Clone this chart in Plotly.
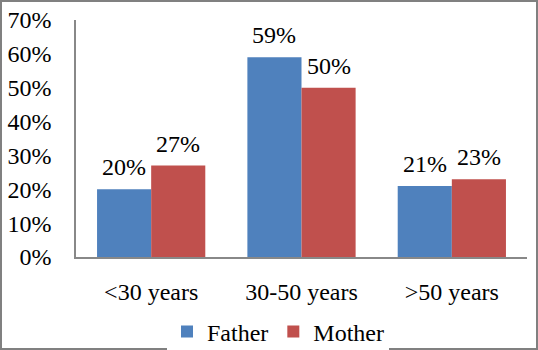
import plotly.graph_objects as go

categories = ["<30 years", "30-50 years", ">50 years"]
father = [0.20, 0.59, 0.21]
mother = [0.27, 0.50, 0.23]
y_ticks = [0, 0.1, 0.2, 0.3, 0.4, 0.5, 0.6, 0.7]

FONT = "Liberation Serif, Times New Roman, serif"
FS = 24
L, R, T, B = 76, 11, 20, 93
W, H = 538, 350
pw, ph = W - L - R, H - T - B
bargap = 0.28
bar_px = pw / len(categories) * (1 - bargap) / 2

fig = go.Figure()
series = [("Father", father, "#4F81BD", -1), ("Mother", mother, "#C0504D", 1)]
for name, vals, col, side in series:
    fig.add_trace(go.Bar(name=name, x=categories, y=vals, marker_color=col,
                         marker_line_width=0))
    for c, v in zip(categories, vals):
        fig.add_annotation(x=c, y=v, text=f"{round(v*100)}%", showarrow=False,
                           xshift=side * bar_px / 2, yshift=7, yanchor="bottom",
                           font=dict(family=FONT, size=FS, color="black"))

fig.update_layout(
    width=W, height=H, margin=dict(l=L, r=R, t=T, b=B, autoexpand=False),
    barmode="group", bargap=bargap, bargroupgap=0,
    plot_bgcolor="white", paper_bgcolor="white",
    font=dict(family=FONT, size=FS, color="black"),
    showlegend=True,
    legend=dict(orientation="h", x=(278 - L) / pw, xanchor="center",
                y=-(332 - (H - B)) / ph, yanchor="middle",
                font=dict(family=FONT, size=FS, color="black"),
                traceorder="normal"),
)
fig.update_xaxes(showline=True, linecolor="#888888", linewidth=1.5,
                 ticks="outside", ticklen=12, tickcolor="rgba(0,0,0,0)",
                 tickfont=dict(family=FONT, size=FS, color="black"),
                 automargin=False)
fig.update_yaxes(range=[0, 0.7], tickvals=y_ticks, tickformat=".0%",
                 showline=True, linecolor="#888888", linewidth=1.5,
                 showgrid=False, zeroline=False,
                 ticks="outside", ticklen=18, tickcolor="rgba(0,0,0,0)",
                 tickfont=dict(family=FONT, size=FS, color="black"),
                 automargin=False)
fig.add_shape(type="rect", xref="paper", yref="paper",
              x0=-(L - 1) / pw, x1=1 + (R - 1) / pw,
              y0=-(B - 1) / ph, y1=1 + (T - 1) / ph,
              line=dict(color="#808080", width=2))
fig.write_html("out.html", config={"displayModeBar": False},
               post_script="document.body.style.margin='0';document.body.style.overflow='hidden';")
